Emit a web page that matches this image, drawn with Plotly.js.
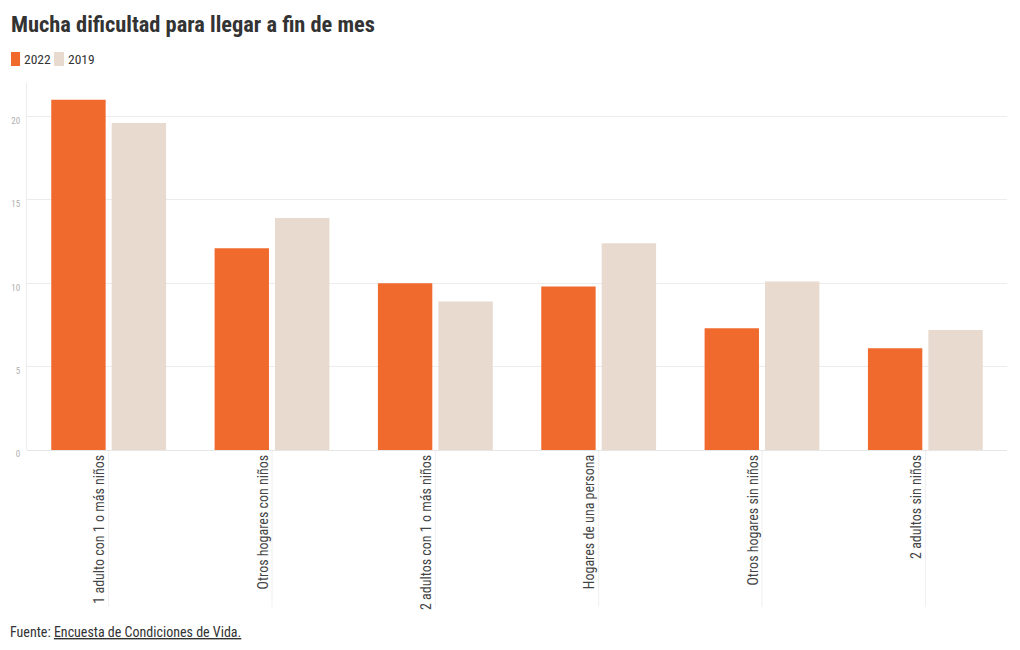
<!DOCTYPE html>
<html>
<head>
<meta charset="utf-8">
<script src="https://cdn.plot.ly/plotly-3.0.1.min.js"></script>
<style>
html,body{margin:0;padding:0;background:#fff;}
#chart{width:1020px;height:650px;}
</style>
</head>
<body>
<div id="chart"></div>
<script>
const categories = ["1 adulto con 1 o más niños","Otros hogares con niños","2 adultos con 1 o más niños","Hogares de una persona","Otros hogares sin niños","2 adultos sin niños"];
const seriesNames = ["2022", "2019"];
const values2022 = [21.0, 12.1, 10.0, 9.8, 7.3, 6.1];
const values2019 = [19.6, 13.9, 8.9, 12.4, 10.1, 7.2];
const yTicks = [0, 5, 10, 15, 20];
const colors = ['#F06A2E', '#E8DACE'];

const FONT = '"Roboto Condensed", "Liberation Sans Narrow", "DejaVu Sans Condensed", Roboto, sans-serif';

const traces = [
  {type:'bar', name:seriesNames[0], x:categories, y:values2022, marker:{color:colors[0]}, hoverinfo:'y'},
  {type:'bar', name:seriesNames[1], x:categories, y:values2019, marker:{color:colors[1]}, hoverinfo:'y'}
];

const shapes = categories.map(c => ({
  type:'line', xref:'x', yref:'paper', x0:c, x1:c, y0:0, y1:-0.428,
  line:{color:'#efefef', width:1}, layer:'below'
}));

// custom legend (keys + labels) in paper coordinates
const legendKeyX = [[-0.0163, -0.0071], [0.0276, 0.0378]];
const legendTextX = [-0.0051, 0.0398];
seriesNames.forEach((n, i) => {
  shapes.push({type:'rect', xref:'paper', yref:'paper', x0:legendKeyX[i][0], x1:legendKeyX[i][1], y0:1.0463, y1:1.0845,
    fillcolor:colors[i], line:{width:0}});
});

const annotations = seriesNames.map((n, i) => ({
  xref:'paper', yref:'paper', x:legendTextX[i], y:1.0654, xanchor:'left', yanchor:'middle', showarrow:false,
  text:n, font:{family:FONT, size:13.5, color:'#333'}
}));
annotations.push({xref:'paper', yref:'paper', x:-0.0196, y:-0.497, xanchor:'left', yanchor:'middle', showarrow:false, align:'left',
  text:'Fuente: <u>Encuesta de Condiciones de Vida.</u>', font:{family:FONT, size:14, color:'#333'}});

const layout = {
  width:1020, height:650,
  margin:{l:27, r:13, t:83, b:200},
  paper_bgcolor:'#fff', plot_bgcolor:'#fff',
  font:{family:FONT, color:'#333'},
  title:{text:'<b>Mucha dificultad para llegar a fin de mes</b>', x:0.0108, xanchor:'left', y:0.963, yanchor:'middle', font:{family:FONT, size:22.4, color:'#333'}},
  showlegend:false,
  barmode:'group', bargap:0.26, bargroupgap:0.1,
  xaxis:{type:'category', tickangle:-90, showgrid:false, ticks:'', tickfont:{family:FONT, size:14, color:'#444'}, ticklabelshift:-9, ticklabelstandoff:1, showline:false, zeroline:false, fixedrange:true},
  yaxis:{range:[0,22], tickvals:yTicks, ticktext:yTicks.map(String), showgrid:true, gridcolor:'#ececec', gridwidth:1, zeroline:true, zerolinecolor:'#e6e6e6', zerolinewidth:1, showline:true, linecolor:'#ececec', linewidth:1, tickfont:{family:FONT, size:9, color:'#b0b0b0'}, ticks:'', ticklabelposition:'outside bottom', ticklabelstandoff:4, ticklabelshift:-2, fixedrange:true},
  shapes:shapes,
  annotations:annotations
};

Plotly.newPlot('chart', traces, layout, {displayModeBar:false});
</script>
</body>
</html>
